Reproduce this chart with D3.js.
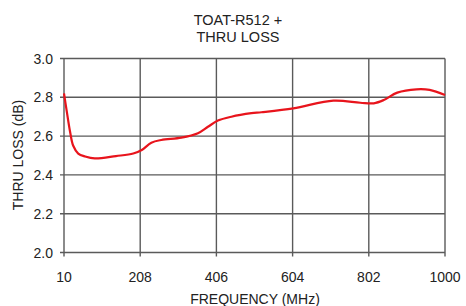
<!DOCTYPE html>
<html>
<head>
<meta charset="utf-8">
<script src="https://cdn.jsdelivr.net/npm/d3@7"></script>
<style>
  body { margin: 0; background: #fff; }
  text { font-family: "Liberation Sans", Arial, sans-serif; fill: #222; }
</style>
</head>
<body>
<div id="chart"></div>
<script>
// values
const freq = [10, 17, 26, 34, 47, 65, 90, 145, 190, 212, 237, 263, 315, 358, 384, 410, 445, 497, 523, 606, 710, 780, 815, 841, 876, 926, 960, 1000];
const loss = [2.82, 2.73, 2.62, 2.55, 2.51, 2.495, 2.485, 2.497, 2.51, 2.528, 2.566, 2.58, 2.592, 2.615, 2.648, 2.68, 2.70, 2.718, 2.723, 2.743, 2.783, 2.772, 2.769, 2.786, 2.824, 2.841, 2.838, 2.812];
const xTicks = [10, 208, 406, 604, 802, 1000];
const yTicks = [2.0, 2.2, 2.4, 2.6, 2.8, 3.0];
const titleLines = ["TOAT-R512 +", "THRU LOSS"];

const width = 466, height = 306;
const margin = {top: 58.5, right: 21, bottom: 53.5, left: 64};

const svg = d3.select("#chart")
  .append("svg")
  .attr("width", width)
  .attr("height", height);

const x = d3.scaleLinear()
  .domain([10, 1000])
  .range([margin.left, width - margin.right]);

const y = d3.scaleLinear()
  .domain([2.0, 3.0])
  .range([height - margin.bottom, margin.top]);

// grid lines
svg.append("g")
  .selectAll("line")
  .data(xTicks)
  .join("line")
  .attr("x1", d => x(d)).attr("x2", d => x(d))
  .attr("y1", y(3.0)).attr("y2", y(2.0) + 4)
  .attr("stroke", "#5a5a5a")
  .attr("stroke-width", 1.4);

svg.append("g")
  .selectAll("line")
  .data(yTicks)
  .join("line")
  .attr("x1", x(10) - 4).attr("x2", x(1000))
  .attr("y1", d => y(d)).attr("y2", d => y(d))
  .attr("stroke", "#5a5a5a")
  .attr("stroke-width", 1.4);

// tick labels
svg.append("g")
  .selectAll("text")
  .data(yTicks)
  .join("text")
  .attr("x", x(10) - 11)
  .attr("y", d => y(d) + 5)
  .attr("text-anchor", "end")
  .style("font-size", "14px")
  .text(d => d.toFixed(1));

svg.append("g")
  .selectAll("text")
  .data(xTicks)
  .join("text")
  .attr("x", d => x(d))
  .attr("y", 282)
  .attr("text-anchor", "middle")
  .style("font-size", "14px")
  .text(d => d);

// axis titles
svg.append("text")
  .attr("x", 255)
  .attr("y", 304)
  .attr("text-anchor", "middle")
  .style("font-size", "14px")
  .text("FREQUENCY (MHz)");

svg.append("text")
  .attr("transform", `translate(23,155) rotate(-90)`)
  .attr("text-anchor", "middle")
  .style("font-size", "14px")
  .text("THRU LOSS (dB)");

// title
svg.append("g")
  .selectAll("text")
  .data(titleLines)
  .join("text")
  .attr("x", 238)
  .attr("y", (d, i) => 25 + i * 16.5)
  .attr("text-anchor", "middle")
  .style("font-size", "14.5px")
  .text(d => d);

// the curve
const line = d3.line()
  .x(d => x(d[0]))
  .y(d => y(d[1]))
  .curve(d3.curveCatmullRom.alpha(0.5));

svg.append("path")
  .datum(d3.zip(freq, loss))
  .attr("fill", "none")
  .attr("stroke", "#e8141c")
  .attr("stroke-width", 2.2)
  .attr("stroke-linejoin", "round")
  .attr("d", line);
</script>
</body>
</html>
